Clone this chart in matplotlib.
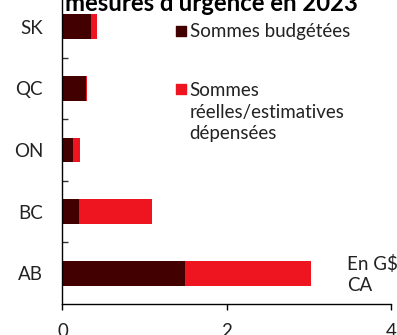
import matplotlib
matplotlib.use("Agg")
import matplotlib.pyplot as plt

provinces = ["AB", "BC", "ON", "QC", "SK"]
budget = [1.49, 0.20, 0.13, 0.29, 0.35]      # sommes budgétées
spent = [3.03, 1.09, 0.21, 0.30, 0.42]       # sommes réelles/estimatives dépensées
xticks = [0, 2, 4]

dark = "#420000"
red = "#EE1520"

plt.rcParams["font.family"] = ["Lato", "DejaVu Sans"]

fig = plt.figure(figsize=(3.97, 3.35), dpi=100)
ax = fig.add_axes([62.5 / 397, 31 / 335, (391 - 62.5) / 397, 308 / 335])

y = list(range(len(provinces)))
# spent drawn full length, budget drawn over it
ax.barh(y, spent, height=0.4, color=red, edgecolor="none")
ax.barh(y, budget, height=0.4, color=dark, edgecolor="none")

ax.set_xlim(0, 4)
ax.set_ylim(-0.5, 4.5)
ax.set_xticks(xticks)
ax.set_xticklabels([str(t) for t in xticks])
ax.set_yticks(y)
ax.set_yticklabels(provinces)
ax.set_yticks([0.5, 1.5, 2.5, 3.5], minor=True)

ax.tick_params(axis="y", which="major", length=0, pad=14, labelsize=13.5, labelcolor="#222222")
ax.tick_params(axis="y", which="minor", direction="in", length=4.5, width=1, color="#333333")
ax.tick_params(axis="x", which="major", direction="out", length=4.5, width=1, pad=9, labelsize=13.5,
               labelcolor="#222222")

for s in ["top", "right"]:
    ax.spines[s].set_visible(False)
for s in ["left", "bottom"]:
    ax.spines[s].set_linewidth(1)
    ax.spines[s].set_color("black")

# legend, drawn by hand
ax.scatter([0.361], [0.885], s=62, marker="s", color=dark, transform=ax.transAxes, clip_on=False)
ax.text(0.387, 0.885, "Sommes budgétées", transform=ax.transAxes, va="center", ha="left",
        fontsize=13.5, color="#222222")
ax.scatter([0.361], [0.697], s=62, marker="s", color=red, transform=ax.transAxes, clip_on=False)
ax.text(0.387, 0.72, "Sommes\nréelles/estimatives\ndépensées", transform=ax.transAxes, va="top",
        ha="left", fontsize=13.5, color="#222222", linespacing=1.32)

ax.text(0.865, 0.16, "En G$\nCA", transform=ax.transAxes, va="top", ha="left",
        fontsize=13.5, color="#222222", linespacing=1.32)

title = fig.text(65 / 397, (335 - 11) / 335, "mesures d'urgence en 2023", fontweight="bold",
                 fontsize=16, va="baseline", ha="left", color="black")
# fit the title to the width seen in the reference (~293 px)
r = fig.canvas.get_renderer()
w = title.get_window_extent(r).width
title.set_fontsize(16 * 293 / w)

fig.savefig("out.png", dpi=100)
